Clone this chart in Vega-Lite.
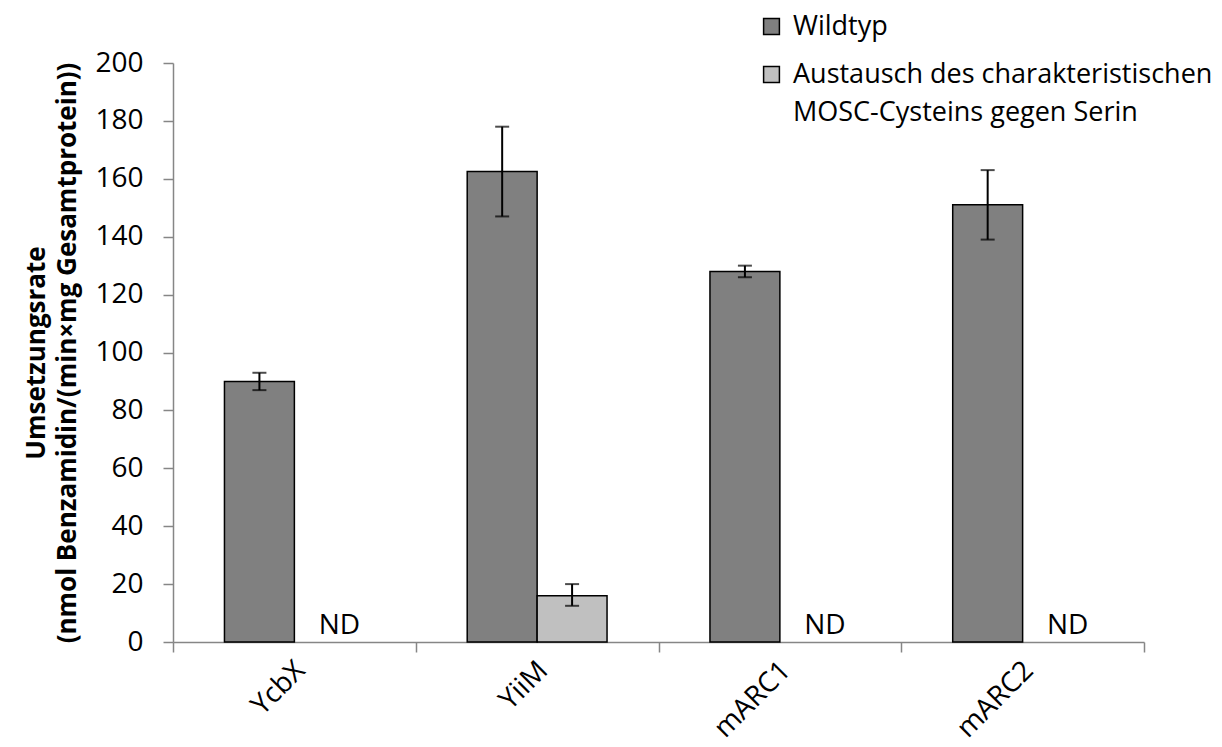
{
  "$schema": "https://vega.github.io/schema/vega-lite/v6.json",
  "autosize": "none",
  "width": 971,
  "height": 579,
  "padding": {"left": 173, "top": 63, "right": 78, "bottom": 105},
  "background": "white",
  "config": {
    "font": "Open Sans",
    "view": {"stroke": null}
  },
  "data": {
    "values": [
      {"protein": "YcbX", "variante": "Wildtyp", "rate": 90, "lo": 87, "hi": 93, "nd": false},
      {"protein": "YcbX", "variante": "Austausch des charakteristischen MOSC-Cysteins gegen Serin", "rate": null, "lo": null, "hi": null, "nd": true},
      {"protein": "YiiM", "variante": "Wildtyp", "rate": 162.5, "lo": 147, "hi": 178, "nd": false},
      {"protein": "YiiM", "variante": "Austausch des charakteristischen MOSC-Cysteins gegen Serin", "rate": 16, "lo": 12.5, "hi": 20, "nd": false},
      {"protein": "mARC1", "variante": "Wildtyp", "rate": 128, "lo": 126, "hi": 130, "nd": false},
      {"protein": "mARC1", "variante": "Austausch des charakteristischen MOSC-Cysteins gegen Serin", "rate": null, "lo": null, "hi": null, "nd": true},
      {"protein": "mARC2", "variante": "Wildtyp", "rate": 151, "lo": 139, "hi": 163, "nd": false},
      {"protein": "mARC2", "variante": "Austausch des charakteristischen MOSC-Cysteins gegen Serin", "rate": null, "lo": null, "hi": null, "nd": true}
    ]
  },
  "encoding": {
    "x": {
      "field": "protein",
      "type": "nominal",
      "sort": ["YcbX", "YiiM", "mARC1", "mARC2"],
      "scale": {"paddingInner": 0, "paddingOuter": 0},
      "axis": {
        "title": null,
        "labelAngle": -45,
        "labelAlign": "right",
        "labelBaseline": "middle",
        "labelFontSize": 28,
        "labelColor": "black",
        "labelPadding": 14,
        "labelOffset": 6,
        "tickBand": "extent",
        "tickSize": 10,
        "tickColor": "#868686",
        "domainColor": "#868686",
        "domainWidth": 1.5,
        "tickWidth": 1.5
      }
    },
    "xOffset": {
      "field": "variante",
      "type": "nominal",
      "sort": ["Wildtyp", "Austausch des charakteristischen MOSC-Cysteins gegen Serin"],
      "scale": {"paddingInner": 0, "paddingOuter": 0.736}
    }
  },
  "layer": [
    {
      "mark": {"type": "bar", "stroke": "black", "strokeWidth": 1.5},
      "encoding": {
        "y": {
          "field": "rate",
          "type": "quantitative",
          "scale": {"domain": [0, 200]},
          "axis": {
            "title": ["Umsetzungsrate", "(nmol Benzamidin/(min×mg Gesamtprotein))"],
            "titleFontSize": 26,
            "titleFontWeight": "bold",
            "titleColor": "black",
            "titleLineHeight": 31,
            "titlePadding": 14,
            "values": [0, 20, 40, 60, 80, 100, 120, 140, 160, 180, 200],
            "grid": false,
            "labelFontSize": 28,
            "labelColor": "black",
            "labelPadding": 20,
            "tickSize": 10,
            "tickColor": "#868686",
            "domainColor": "#868686",
            "domainWidth": 1.5,
            "tickWidth": 1.5
          }
        },
        "fill": {
          "field": "variante",
          "type": "nominal",
          "scale": {
            "domain": ["Wildtyp", "Austausch des charakteristischen MOSC-Cysteins gegen Serin"],
            "range": ["#808080", "#c0c0c0"]
          },
          "legend": {
            "title": null,
            "orient": "none",
            "legendX": 585,
            "legendY": -50,
            "symbolType": "square",
            "symbolSize": 250,
            "symbolStrokeColor": "black",
            "symbolStrokeWidth": 1.5,
            "symbolOpacity": 1,
            "labelFontSize": 27,
            "labelColor": "black",
            "labelLimit": 600,
            "labelOffset": 8,
            "rowPadding": 20,
            "labelExpr": "datum.label == 'Wildtyp' ? 'Wildtyp' : ['Austausch des charakteristischen', 'MOSC-Cysteins gegen Serin']",
            "encode": {"labels": {"update": {"lineHeight": {"value": 38}}}}
          }
        }
      }
    },
    {
      "mark": {"type": "rule", "color": "black", "strokeWidth": 2},
      "encoding": {
        "y": {"field": "lo", "type": "quantitative"},
        "y2": {"field": "hi"}
      }
    },
    {
      "mark": {"type": "tick", "color": "black", "thickness": 2, "size": 14},
      "encoding": {
        "y": {"field": "lo", "type": "quantitative"}
      }
    },
    {
      "mark": {"type": "tick", "color": "black", "thickness": 2, "size": 14},
      "encoding": {
        "y": {"field": "hi", "type": "quantitative"}
      }
    },
    {
      "transform": [{"filter": "datum.nd"}],
      "mark": {"type": "text", "fontSize": 28, "baseline": "bottom", "align": "center", "dx": 10, "dy": -2, "color": "black"},
      "encoding": {
        "y": {"datum": 0, "type": "quantitative"},
        "text": {"value": "ND"}
      }
    }
  ]
}
